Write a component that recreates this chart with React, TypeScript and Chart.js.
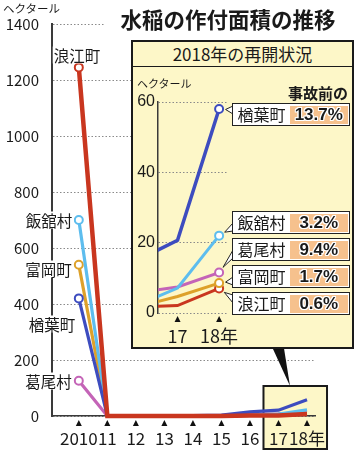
import React, { useEffect, useRef } from 'react';
import { Chart, registerables } from 'chart.js';

Chart.register(...registerables);

// ---- data ----
const years = [2010, 2011, 2012, 2013, 2014, 2015, 2016, 2017, 2018];
const namieHa = [1245, 0, 0, 0, 0, 0, 1.7, 2.1, 7];
const iitateHa = [700, 0, 0, 0, 0, 0.5, 2, 7.1, 22];
const tomiokaHa = [540, 0, 0, 0, 0, 0, 1.7, 4.7, 8.5];
const narahaHa = [420, 0, 0, 0, 1, 3, 14.8, 20.7, 58];
const katsuraoHa = [126, 0, 0, 0, 0, 1, 5.7, 7.4, 11.5];
const mainYTicks = [0, 200, 400, 600, 800, 1000, 1200, 1400];
const insetYTicks = [0, 20, 40, 60];
const insetYears = [2017, 2018];
const townNames = ['浪江町', '飯舘村', '富岡町', '楢葉町', '葛尾村'];
const preAccidentShare = ['0.6%', '3.2%', '1.7%', '13.7%', '9.4%'];

// ---- styles ----
const seriesValues = [namieHa, iitateHa, tomiokaHa, narahaHa, katsuraoHa];
const COLORS: Record<string, string> = {
  '浪江町': '#c9361f',
  '飯舘村': '#5dbdee',
  '富岡町': '#dda12a',
  '楢葉町': '#3d4cbf',
  '葛尾村': '#c464b7',
};
const MAIN_ORDER = ['浪江町', '楢葉町', '飯舘村', '富岡町', '葛尾村']; // top first
const INSET_ORDER = ['楢葉町', '飯舘村', '葛尾村', '富岡町', '浪江町'];
const NARROW = "'Liberation Sans Narrow', 'Noto Sans CJK JP', sans-serif";
const JP = "'Noto Sans CJK JP', sans-serif";
const YELLOW = '#fdf7c8';

const mainLabelPos: Record<string, [number, number]> = {
  '浪江町': [77, 55],
  '飯舘村': [49, 220],
  '富岡町': [48.5, 269],
  '楢葉町': [52, 324],
  '葛尾村': [48.5, 381],
};
const calloutTop: Record<string, number> = {
  '楢葉町': 103,
  '飯舘村': 211,
  '葛尾村': 238,
  '富岡町': 265,
  '浪江町': 292,
};
const CALLOUT_LEFT = 232;
const CALLOUT_H = 23;
const INSET_CANVAS_LEFT = 133;
const INSET_CANVAS_TOP = 68;

const valuesOf = (name: string) => seriesValues[townNames.indexOf(name)];

const mainDecor = {
  id: 'mainDecor',
  beforeDraw(chart: any) {
    const ctx = chart.ctx;
    const xs = chart.scales.x;
    const l = xs.getPixelForValue(2017) - 15;
    const r = xs.getPixelForValue(2018) + 20;
    ctx.save();
    ctx.fillStyle = YELLOW;
    ctx.strokeStyle = '#1a1a1a';
    ctx.lineWidth = 2;
    ctx.fillRect(l, 386, r - l, 63);
    ctx.strokeRect(l, 386, r - l, 63);
    ctx.restore();
  },
  afterDraw(chart: any) {
    const ctx = chart.ctx;
    const xs = chart.scales.x;
    const bottom = chart.chartArea.bottom;
    ctx.save();
    ctx.fillStyle = '#111';
    xs.ticks.forEach((t: any) => {
      const x = xs.getPixelForValue(t.value);
      ctx.beginPath();
      ctx.moveTo(x, bottom + 4);
      ctx.lineTo(x - 3, bottom + 10);
      ctx.lineTo(x + 3, bottom + 10);
      ctx.closePath();
      ctx.fill();
    });
    // pointer from inset to highlighted area
    ctx.beginPath();
    ctx.moveTo(270.7, 344);
    ctx.lineTo(283.3, 344);
    ctx.lineTo(290, 386);
    ctx.closePath();
    ctx.fill();
    ctx.restore();
  },
};

const insetDecor = {
  id: 'insetDecor',
  afterDraw(chart: any) {
    const ctx = chart.ctx;
    const xs = chart.scales.x;
    const bottom = chart.chartArea.bottom;
    ctx.save();
    ctx.fillStyle = '#111';
    xs.ticks.forEach((t: any) => {
      const x = xs.getPixelForValue(t.value);
      ctx.beginPath();
      ctx.moveTo(x, bottom + 3);
      ctx.lineTo(x - 3, bottom + 9);
      ctx.lineTo(x + 3, bottom + 9);
      ctx.closePath();
      ctx.fill();
    });
    // callout tails
    chart.data.datasets.forEach((ds: any, i: number) => {
      const meta = chart.getDatasetMeta(i);
      const pt = meta.data[meta.data.length - 1];
      const top = calloutTop[ds.label] - INSET_CANVAS_TOP;
      const bx = CALLOUT_LEFT - INSET_CANVAS_LEFT + 1;
      const by = Math.min(Math.max(pt.y, top + 7), top + CALLOUT_H - 7);
      const dx = bx - pt.x;
      const dy = by - pt.y;
      const len = Math.hypot(dx, dy) || 1;
      const ax = pt.x + (dx / len) * 6.5;
      const ay = pt.y + (dy / len) * 6.5;
      ctx.beginPath();
      ctx.moveTo(bx, by - 4);
      ctx.lineTo(ax, ay);
      ctx.lineTo(bx, by + 4);
      ctx.closePath();
      ctx.fillStyle = '#fff';
      ctx.fill();
      ctx.strokeStyle = '#222';
      ctx.lineWidth = 1;
      ctx.beginPath();
      ctx.moveTo(bx, by - 4);
      ctx.lineTo(ax, ay);
      ctx.lineTo(bx, by + 4);
      ctx.stroke();
    });
    ctx.restore();
  },
};

const mainXLabel = (v: number) => (v === 2010 ? '2010' : v === 2018 ? '18年' : String(v - 2000));

export default function App() {
  const mainRef = useRef<HTMLCanvasElement>(null);
  const insetRef = useRef<HTMLCanvasElement>(null);

  useEffect(() => {
    const mainChart = new Chart(mainRef.current as HTMLCanvasElement, {
      type: 'line',
      data: {
        datasets: MAIN_ORDER.map((name) => {
          const vals = valuesOf(name);
          return {
            label: name,
            data: years.map((x, i) => ({ x, y: vals[i] })),
            borderColor: COLORS[name],
            borderWidth: name === '浪江町' ? 4.5 : 3.2,
            pointRadius: years.map((y) => (y === 2010 ? 4 : 0)),
            pointBorderWidth: 2,
            pointBackgroundColor: '#fff',
            pointBorderColor: COLORS[name],
            clip: false,
            tension: 0,
          } as any;
        }),
      },
      options: {
        animation: false,
        responsive: false,
        events: [],
        layout: { padding: { left: 0, top: 24, right: 44, bottom: 0 } },
        plugins: { legend: { display: false }, tooltip: { enabled: false } },
        scales: {
          x: {
            type: 'linear',
            min: 2009.06,
            max: 2018.28,
            afterBuildTicks: (s: any) => {
              s.ticks = years.map((v) => ({ value: v }));
            },
            afterFit: (s: any) => {
              s.height = 34;
            },
            grid: { display: false, drawTicks: false },
            border: { display: true, color: '#3a3a3a', width: 1.5 },
            ticks: {
              padding: 12,
              maxRotation: 0,
              autoSkip: false,
              color: '#1a1a1a',
              font: { family: NARROW, size: 17 },
              callback: (v: any) => mainXLabel(Number(v)),
            },
          },
          y: {
            type: 'linear',
            min: 0,
            max: 1400,
            afterBuildTicks: (s: any) => {
              s.ticks = mainYTicks.map((v) => ({ value: v }));
            },
            afterFit: (s: any) => {
              s.width = 52;
            },
            grid: { color: '#8a8a8a', lineWidth: 1, drawTicks: false },
            border: { display: true, color: '#3a3a3a', width: 2, dash: [1.5, 2] },
            ticks: {
              padding: 13,
              color: '#1a1a1a',
              font: { family: NARROW, size: 15 },
              callback: (v: any) => String(v),
            },
          },
        },
      } as any,
      plugins: [mainDecor],
    });

    const insetChart = new Chart(insetRef.current as HTMLCanvasElement, {
      type: 'line',
      data: {
        datasets: INSET_ORDER.map((name) => {
          const vals = valuesOf(name);
          const pts = years
            .map((x, i) => ({ x, y: vals[i] }))
            .filter((p) => p.x >= 2016);
          return {
            label: name,
            data: pts,
            borderColor: COLORS[name],
            borderWidth: name === '楢葉町' ? 3.5 : 3,
            pointRadius: pts.map((p) => (p.x === 2018 ? 4 : 0)),
            pointBorderWidth: 2,
            pointBackgroundColor: '#fff',
            pointBorderColor: COLORS[name],
            tension: 0,
          } as any;
        }),
      },
      options: {
        animation: false,
        responsive: false,
        events: [],
        layout: { padding: { left: 0, top: 34, right: 124, bottom: 0 } },
        plugins: { legend: { display: false }, tooltip: { enabled: false } },
        scales: {
          x: {
            type: 'linear',
            min: 2016.53,
            max: 2018.19,
            afterBuildTicks: (s: any) => {
              s.ticks = insetYears.map((v) => ({ value: v }));
            },
            afterFit: (s: any) => {
              s.height = 34;
            },
            grid: { display: false, drawTicks: false },
            border: { display: false },
            ticks: {
              padding: 12,
              maxRotation: 0,
              autoSkip: false,
              color: '#1a1a1a',
              font: { family: NARROW, size: 18 },
              callback: (v: any) => (Number(v) === 2018 ? '18年' : String(Number(v) - 2000)),
            },
          },
          y: {
            type: 'linear',
            min: 0,
            max: 60,
            afterBuildTicks: (s: any) => {
              s.ticks = insetYTicks.map((v) => ({ value: v }));
            },
            afterFit: (s: any) => {
              s.width = 25;
            },
            grid: { color: '#8a8a8a', lineWidth: 1, drawTicks: false },
            border: { display: true, color: '#3a3a3a', width: 1.5, dash: [1.5, 2] },
            ticks: {
              padding: 3,
              color: '#1a1a1a',
              font: { family: "'Liberation Sans', sans-serif", size: 16 },
              callback: (v: any) => String(v),
            },
          },
        },
      } as any,
      plugins: [insetDecor],
    });

    return () => {
      mainChart.destroy();
      insetChart.destroy();
    };
  }, []);

  const abs = (extra: React.CSSProperties): React.CSSProperties => ({ position: 'absolute', ...extra });

  return (
    <div style={{ position: 'absolute', left: 0, top: 0, width: 359, height: 450, overflow: 'hidden', background: '#fff', fontFamily: JP, color: '#1a1a1a' }}>
      <canvas ref={mainRef} width={359} height={450} style={abs({ left: 0, top: 0, width: 359, height: 450, zIndex: 0 })} />
      <div style={abs({ left: 3, top: 1, fontSize: 11.5, lineHeight: '14px', zIndex: 1, whiteSpace: 'nowrap' })}>ヘクタール</div>
      <div style={abs({ left: 104, top: 5, width: 248, height: 28, background: '#fff', fontSize: 21.5, fontWeight: 700, lineHeight: '28px', textAlign: 'center', zIndex: 1, whiteSpace: 'nowrap' })}>
        水稲の作付面積の推移
      </div>
      {townNames.map((name) => {
        const [cx, cy] = mainLabelPos[name];
        return (
          <div
            key={name}
            style={abs({ left: cx, top: cy, transform: 'translate(-50%, -50%)', fontSize: 15.5, lineHeight: '17px', background: '#fff', zIndex: 1, whiteSpace: 'nowrap', padding: '0 1px' })}
          >
            {name}
          </div>
        );
      })}
      <div style={abs({ left: 131, top: 40, width: 223, height: 309, boxSizing: 'border-box', border: '2px solid #1a1a1a', background: YELLOW, zIndex: 2 })}>
        <div style={{ height: 24, borderBottom: '1.5px solid #1a1a1a', fontSize: 17, lineHeight: '24px', textAlign: 'center', whiteSpace: 'nowrap' }}>2018年の再開状況</div>
      </div>
      <canvas ref={insetRef} width={218} height={279} style={abs({ left: INSET_CANVAS_LEFT, top: INSET_CANVAS_TOP, width: 218, height: 279, zIndex: 3 })} />
      <div style={abs({ left: 137, top: 76, fontSize: 11, lineHeight: '14px', zIndex: 4, whiteSpace: 'nowrap' })}>ヘクタール</div>
      <div style={abs({ left: 288, top: 83, fontSize: 15, fontWeight: 700, lineHeight: '19px', zIndex: 4, whiteSpace: 'nowrap' })}>事故前の</div>
      {INSET_ORDER.map((name) => (
        <div
          key={name}
          style={abs({ left: CALLOUT_LEFT, top: calloutTop[name], width: 118, height: CALLOUT_H, boxSizing: 'border-box', border: '1.5px solid #222', background: '#fff', display: 'flex', zIndex: 4 })}
        >
          <div style={{ width: 57, fontSize: 16, lineHeight: '20px', textAlign: 'center', whiteSpace: 'nowrap' }}>{name}</div>
          <div
            style={{
              flex: 1,
              margin: '1.5px 1.5px 1.5px 0',
              background: '#f6c18d',
              fontFamily: "'Liberation Sans', sans-serif",
              fontWeight: 700,
              fontSize: 17,
              lineHeight: '17px',
              textAlign: 'center',
              whiteSpace: 'nowrap',
              textShadow: '1px 0 0 #fff, -1px 0 0 #fff, 0 1px 0 #fff, 0 -1px 0 #fff, 1px 1px 0 #fff, -1px -1px 0 #fff, 1px -1px 0 #fff, -1px 1px 0 #fff',
            }}
          >
            {preAccidentShare[townNames.indexOf(name)]}
          </div>
        </div>
      ))}
    </div>
  );
}
